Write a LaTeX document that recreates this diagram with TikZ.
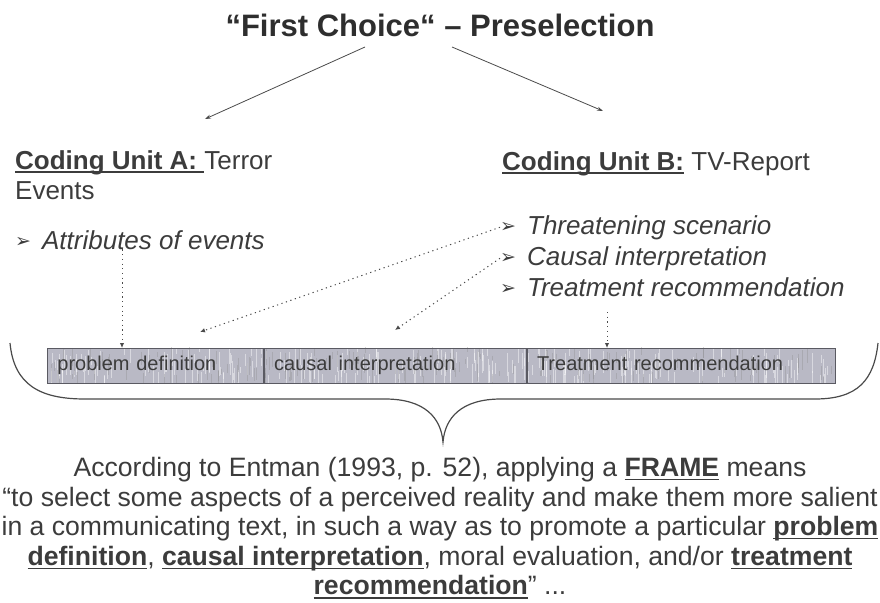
\documentclass[tikz,border=0pt]{standalone}
\usepackage{fontspec}
\setmainfont{Liberation Sans}
\newfontfamily\dingfont{DejaVu Sans}
\usetikzlibrary{arrows.meta,calc,backgrounds}

\definecolor{ink}{HTML}{3C3C3C}
\definecolor{titleink}{HTML}{2E2E2E}
\definecolor{lineclr}{HTML}{4A4A4A}
\definecolor{barfill}{HTML}{B9B9C5}
\definecolor{barline}{HTML}{5A5A62}

% bold term with a rule underneath
\newsavebox{\termbox}
\newcommand{\keyterm}[1]{\sbox{\termbox}{\textbf{#1}}%
  \rlap{\rule[-3.8pt]{\wd\termbox}{1.4pt}}\usebox{\termbox}}
\newcommand{\arrowbullet}{\raisebox{1.5pt}{\dingfont\fontsize{19}{19}\selectfont ➢}}

\tikzset{
  txt/.style={inner sep=0pt, text=ink, font=\fontsize{26}{30}\selectfont},
  bodytxt/.style={inner sep=0pt, text=ink, font=\fontsize{26.6}{29.6}\selectfont},
  solidarrow/.style={draw=lineclr, line width=0.8pt, -{Stealth[length=6pt,width=4pt]}},
  dotarrow/.style={draw=lineclr, line width=1pt, dash pattern=on 1.2pt off 3.5pt,
                   -{Latex[length=5pt,width=4.5pt]}},
  cell/.style={draw=barline, line width=0.8pt, anchor=west, minimum height=35pt,
               inner xsep=10pt, inner ysep=0pt, align=left, text=ink,
               text height=14.5pt, text depth=4.5pt,
               font=\fontsize{20}{24}\selectfont},
  bracestyle/.style={draw=lineclr, line width=1.2pt}
}

\begin{document}
\begin{tikzpicture}[x=1pt, y=-1pt]
\useasboundingbox (0,0) rectangle (880,602);

% heading
\node[inner sep=0pt, text=titleink, font=\bfseries\fontsize{31}{36}\selectfont] (title) at (440,25)
  {“First Choice“ – Preselection};

% the two coding units
\node[txt, anchor=north west, align=left] (cua) at (15,150)
  {\keyterm{Coding Unit A:\ }Terror\\Events};
\node[txt, anchor=base west] (cub) at (502,170)
  {\keyterm{Coding Unit B:} TV-Report};

% branching arrows below the heading
\coordinate (sa) at (365,47);
\coordinate (sb) at (452,47);
\coordinate (ea) at (205,119);
\coordinate (eb) at (603,111);
\draw[solidarrow] (sa) -- (ea);
\draw[solidarrow] (sb) -- (eb);

% attributes
\node[txt, anchor=base west] (att) at (15,249)
  {\arrowbullet\hspace{11pt}\textit{Attributes of events}};
\node[txt, anchor=base west] (thr) at (500,234)
  {\arrowbullet\hspace{11pt}\textit{Threatening scenario}};
\node[txt, anchor=base west] (cau) at (500,265)
  {\arrowbullet\hspace{11pt}\textit{Causal interpretation}};
\node[txt, anchor=base west] (trt) at (500,296)
  {\arrowbullet\hspace{11pt}\textit{Treatment recommendation}};

% frame elements bar
\node[cell, text width=196pt] (pd) at (47,365.5) {problem definition};
\node[cell, text width=242pt] (ci) at (pd.east) {causal interpretation};
\node[cell, text width=288pt] (tr) at (ci.east) {Treatment recommendation};

\begin{scope}[on background layer]
  \fill[barfill] (pd.north west) rectangle (tr.south east);
  \clip (pd.north west) rectangle (tr.south east);
  \pgfmathsetseed{11}
  \foreach \i in {1,...,280}{
    \pgfmathsetmacro{\xx}{47+786*rnd}
    \pgfmathsetmacro{\ya}{346+30*rnd}
    \pgfmathsetmacro{\yb}{\ya+6+20*rnd}
    \draw[white, opacity=0.45, line width=0.7pt] (\xx,\ya) -- (\xx,\yb);
  }
  \foreach \i in {1,...,160}{
    \pgfmathsetmacro{\xx}{47+786*rnd}
    \pgfmathsetmacro{\ya}{346+30*rnd}
    \pgfmathsetmacro{\yb}{\ya+4+16*rnd}
    \draw[black!45, opacity=0.35, line width=0.6pt] (\xx,\ya) -- (\xx,\yb);
  }
\end{scope}

% dotted links into the bar
\coordinate (pdtop) at (122,348);
\coordinate (da) at (200,332);
\coordinate (db) at (395,330);
\coordinate (trtop) at (607,348);
\coordinate (trsrc) at (607,312);
\draw[dotarrow] (att.south -| pdtop) -- (pdtop);
\draw[dotarrow] (thr.west) -- (da);
\draw[dotarrow] (cau.west) -- (db);
\draw[dotarrow] (trsrc) -- (trtop);

% brace under the bar
\draw[bracestyle] (10,343) .. controls (14,385) and (40,399) .. (85,399)
  -- (385,399) .. controls (425,399) and (441,418) .. (443,442)
  .. controls (445,418) and (461,399) .. (501,399)
  -- (815,399) .. controls (858,399) and (874,380) .. (878,343);

% definition text
\node[bodytxt, anchor=north, align=center] (def) at (440,457)
  {According to Entman (1993, p. 52), applying a \keyterm{FRAME} means\\
   “to select some aspects of a perceived reality and make them more salient\\
   in a communicating text, in such a way as to promote a particular \keyterm{problem}\\
   \keyterm{definition}, \keyterm{causal interpretation}, moral evaluation, and/or \keyterm{treatment}\\
   \keyterm{recommendation}” ...};
\end{tikzpicture}
\end{document}
